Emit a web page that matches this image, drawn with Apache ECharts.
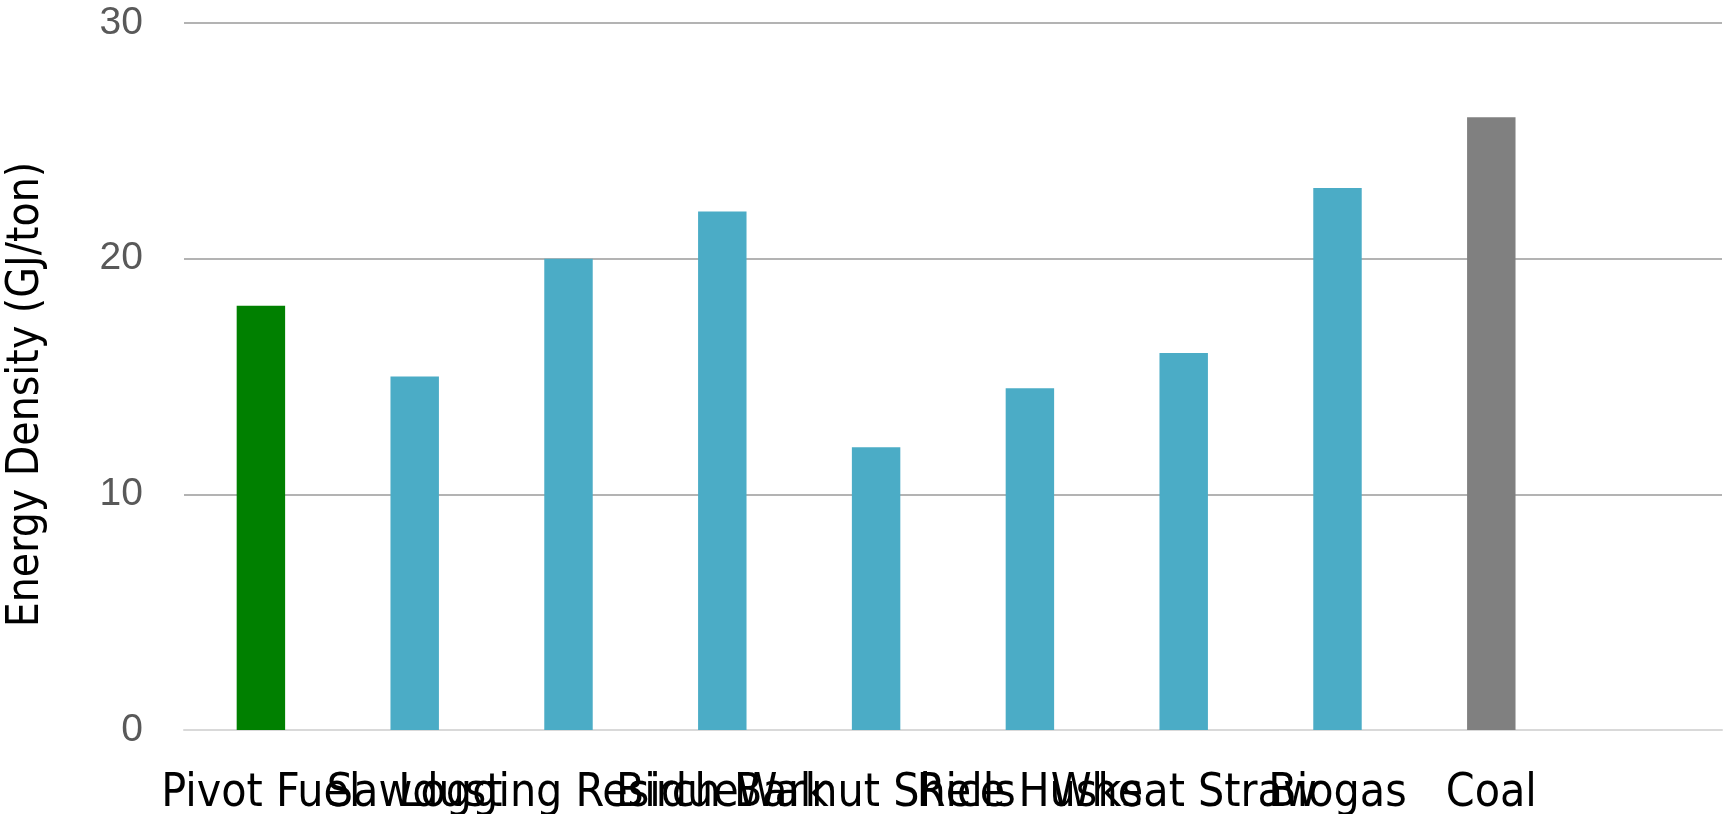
<!DOCTYPE html>
<html>
<head>
<meta charset="utf-8">
<title>Energy Density</title>
<script src="https://cdn.jsdelivr.net/npm/echarts@6/dist/echarts.min.js"></script>
<style>
  html, body { margin: 0; padding: 0; background: #ffffff; }
  #chart { width: 1729px; height: 814px; }
</style>
</head>
<body>
<div id="chart"></div>
<script>
// Fuel types and their energy density (GJ/ton)
const categories = ['Pivot Fuel', 'Sawdust', 'Logging Residue', 'Birch Bark', 'Walnut Shells', 'Rice Husks', 'Wheat Straw', 'Biogas', 'Coal'];
const values = [18, 15, 20, 22, 12, 14.5, 16, 23, 26];
const barColors = ['#008000', '#4bacc6', '#4bacc6', '#4bacc6', '#4bacc6', '#4bacc6', '#4bacc6', '#4bacc6', '#808080'];
const yTicks = [0, 10, 20, 30];

const labelFont = '"DejaVu Sans Condensed", "Liberation Sans Narrow", sans-serif';

// one empty slot at the right end of the category axis
const axisCategories = categories.concat(['']);

const chart = echarts.init(document.getElementById('chart'), null, { renderer: 'canvas' });
chart.setOption({
  animation: false,
  backgroundColor: '#ffffff',
  grid: { left: 184, right: 7, top: 23, bottom: 84, containLabel: false, outerBoundsMode: 'none' },
  xAxis: {
    type: 'category',
    data: axisCategories,
    axisLine: { show: true, lineStyle: { color: '#d9d9d9', width: 2 } },
    axisTick: { show: false },
    axisLabel: {
      interval: 0,
      hideOverlap: false,
      color: '#000000',
      fontFamily: labelFont,
      fontSize: 46,
      margin: 41
    }
  },
  yAxis: {
    type: 'value',
    min: yTicks[0],
    max: yTicks[yTicks.length - 1],
    interval: yTicks[1] - yTicks[0],
    name: 'Energy Density (GJ/ton)',
    nameLocation: 'middle',
    nameGap: 135,
    nameTextStyle: { color: '#000000', fontFamily: labelFont, fontSize: 44, padding: [0, 36, 0, 0] },
    axisLine: { show: false },
    axisTick: { show: false },
    axisLabel: {
      color: '#595959',
      fontFamily: '"Liberation Sans", Arial, sans-serif',
      fontSize: 39,
      margin: 41
    },
    splitLine: { show: true, lineStyle: { color: '#9a9a9a', width: 1.5 } }
  },
  series: [{
    type: 'bar',
    data: values.map((v, i) => ({ value: v, itemStyle: { color: barColors[i] } })),
    barWidth: '31.5%'
  }]
});
</script>
</body>
</html>
